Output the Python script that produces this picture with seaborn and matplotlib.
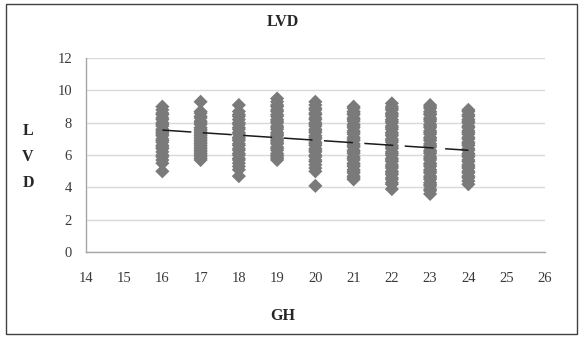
import pandas as pd
import matplotlib
matplotlib.use('Agg')
import matplotlib.pyplot as plt
import seaborn as sns
from matplotlib.patches import Rectangle

# LVD values per GH group
ga_groups = [16, 17, 18, 19, 20, 21, 22, 23, 24]
g16 = [9.0, 8.8, 8.6, 8.5, 8.3, 8.2, 8.0, 7.9, 7.8, 7.6, 7.5, 7.4, 7.3, 7.2, 7.0, 6.9, 6.8,
       6.6, 6.5, 6.4, 6.2, 6.0, 5.9, 5.7, 5.5, 5.0]
g17 = [9.3, 8.7, 8.6, 8.4, 8.3, 8.1, 8.0, 7.9, 7.7, 7.6, 7.5, 7.4, 7.3, 7.2, 7.1, 7.0, 6.9,
       6.8, 6.7, 6.6, 6.5, 6.4, 6.3, 6.2, 6.1, 6.0, 5.9, 5.8, 5.7]
g18 = [9.1, 8.7, 8.5, 8.4, 8.2, 8.0, 7.9, 7.7, 7.6, 7.4, 7.3, 7.1, 7.0, 6.9, 6.7, 6.6, 6.4,
       6.3, 6.1, 6.0, 5.8, 5.7, 5.5, 5.3, 5.1, 4.7]
g19 = [9.5, 9.3, 9.1, 9.0, 8.8, 8.7, 8.5, 8.4, 8.2, 8.1, 8.0, 7.8, 7.7, 7.6, 7.4, 7.3, 7.2,
       7.0, 6.9, 6.8, 6.7, 6.5, 6.4, 6.3, 6.1, 6.0, 5.9, 5.8, 5.7]
g20 = [9.3, 9.1, 8.9, 8.8, 8.6, 8.5, 8.3, 8.2, 8.0, 7.9, 7.8, 7.6, 7.5, 7.4, 7.2, 7.1, 7.0,
       6.8, 6.7, 6.6, 6.4, 6.3, 6.2, 6.0, 5.9, 5.7, 5.6, 5.4, 5.2, 5.0, 4.1]
g21 = [9.0, 8.9, 8.7, 8.6, 8.5, 8.3, 8.2, 8.1, 7.9, 7.8, 7.7, 7.5, 7.4, 7.3, 7.1, 7.0, 6.9,
       6.7, 6.6, 6.5, 6.3, 6.2, 6.1, 5.9, 5.8, 5.7, 5.5, 5.4, 5.3, 5.1, 5.0, 4.9, 4.7, 4.6, 4.5]
g22 = [9.2, 9.0, 8.9, 8.8, 8.6, 8.5, 8.4, 8.2, 8.1, 8.0, 7.8, 7.7, 7.6, 7.4, 7.3, 7.2, 7.0,
       6.9, 6.8, 6.6, 6.5, 6.4, 6.2, 6.1, 6.0, 5.8, 5.7, 5.6, 5.4, 5.3, 5.2, 5.0, 4.9, 4.8,
       4.6, 4.5, 4.3, 4.2, 3.9]
g23 = [9.1, 9.0, 8.9, 8.7, 8.6, 8.5, 8.3, 8.2, 8.1, 7.9, 7.8, 7.7, 7.5, 7.4, 7.3, 7.1, 7.0,
       6.9, 6.7, 6.6, 6.5, 6.3, 6.2, 6.1, 5.9, 5.8, 5.7, 5.5, 5.4, 5.3, 5.1, 5.0, 4.9, 4.7,
       4.6, 4.5, 4.3, 4.2, 4.1, 3.9, 3.8, 3.6]
g24 = [8.8, 8.7, 8.5, 8.4, 8.2, 8.1, 8.0, 7.8, 7.7, 7.5, 7.4, 7.3, 7.1, 7.0, 6.8, 6.7, 6.6,
       6.4, 6.3, 6.1, 6.0, 5.9, 5.7, 5.6, 5.4, 5.3, 5.2, 5.0, 4.9, 4.7, 4.6, 4.4, 4.2]
group_values = [g16, g17, g18, g19, g20, g21, g22, g23, g24]

# linear trendline ends
trend_x = [16, 24]
trend_y = [7.55, 6.3]

x_ticks = list(range(14, 27))
y_ticks = list(range(0, 13, 2))

rows = []
for ga, vals in zip(ga_groups, group_values):
    for v in vals:
        rows.append({'GH': ga, 'LVD': v})
data = pd.DataFrame(rows)

sns.set_style('white')
plt.rcParams['font.family'] = ['Liberation Serif', 'DejaVu Serif']

fig = plt.figure(figsize=(5.84, 3.38), dpi=100)
ax = fig.add_axes([0.147, 0.254, 0.786, 0.574])

sns.scatterplot(data=data, x='GH', y='LVD', marker='D', s=52, color='#7a7a7a',
                edgecolor='none', linewidth=0, ax=ax, zorder=3)
ax.plot(trend_x, trend_y, color='#1a1a1a', lw=1.1, dashes=(19, 7.5), zorder=4)

ax.set_xlim(14, 26)
ax.set_ylim(0, 12)
ax.set_xticks(x_ticks)
ax.set_yticks(y_ticks)
ax.set_xlabel('')
ax.set_ylabel('')
ax.yaxis.grid(True, color='#d9d9d9', lw=1)
ax.xaxis.grid(False)
for side in ['top', 'right']:
    ax.spines[side].set_visible(False)
for side in ['left', 'bottom']:
    ax.spines[side].set_color('#a6a6a6')
    ax.spines[side].set_linewidth(1)
ax.tick_params(axis='both', direction='out', length=4, width=1, color='#a6a6a6',
               labelsize=10.5, labelcolor='#3a3a3a', pad=6)
ax.tick_params(axis='x', pad=10)

fig.text(0.485, 0.935, 'LVD', ha='center', va='center', fontsize=11.5, fontweight='bold')
fig.text(0.485, 0.065, 'GH', ha='center', va='center', fontsize=11.5, fontweight='bold')
for letter, yy in zip(['L', 'V', 'D'], [0.612, 0.536, 0.459]):
    fig.text(0.048, yy, letter, ha='center', va='center', fontsize=11.5, fontweight='bold')

fig.patches.append(Rectangle((0.01, 0.012), 0.978, 0.976, transform=fig.transFigure,
                             fill=False, edgecolor='#404040', lw=1))

plt.savefig('out.png', dpi=100)
